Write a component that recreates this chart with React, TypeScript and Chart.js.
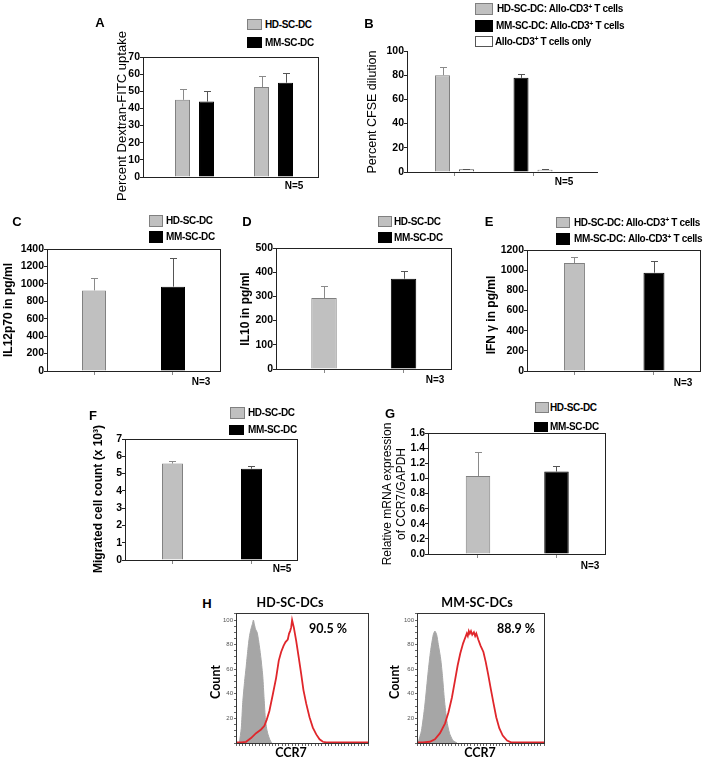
import React, { useEffect, useRef } from 'react';
import { Chart, registerables } from 'chart.js';
Chart.register(...registerables);

// ---------------- DATA ----------------
const GROUPS = ['1', '2'];

// A: Dextran-FITC uptake (%)
const A_HD = [45, 52.5];
const A_HD_ERR = [6.1, 6.7];
const A_MM = [44, 55];
const A_MM_ERR = [5.9, 5.6];
const A_YTICKS = [0, 10, 20, 30, 40, 50, 60, 70];

// B: CFSE dilution (%)
const B_HD = [80, null];
const B_HD_ERR = [6.4, null];
const B_MM = [null, 77.8];
const B_MM_ERR = [null, 3.6];
const B_T = [2.2, 1.9];
const B_T_ERR = [0.6, 0.6];
const B_YTICKS = [0, 20, 40, 60, 80, 100];

// C: IL12p70 pg/ml
const C_HD = [925, null];
const C_HD_ERR = [140, null];
const C_MM = [null, 968];
const C_MM_ERR = [null, 325];
const C_YTICKS = [0, 200, 400, 600, 800, 1000, 1200, 1400];

// D: IL10 pg/ml
const D_HD = [293, null];
const D_HD_ERR = [52, null];
const D_MM = [null, 373];
const D_MM_ERR = [null, 32];
const D_YTICKS = [0, 100, 200, 300, 400, 500];

// E: IFN gamma pg/ml
const E_HD = [1070, null];
const E_HD_ERR = [65, null];
const E_MM = [null, 975];
const E_MM_ERR = [null, 112];
const E_YTICKS = [0, 200, 400, 600, 800, 1000, 1200];

// F: migrated cell count (x10^3)
const F_HD = [5.58, null];
const F_HD_ERR = [0.17, null];
const F_MM = [null, 5.28];
const F_MM_ERR = [null, 0.14];
const F_YTICKS = [0, 1, 2, 3, 4, 5, 6, 7];

// G: relative mRNA CCR7/GAPDH
const G_HD = [1.03, null];
const G_HD_ERR = [0.32, null];
const G_MM = [null, 1.09];
const G_MM_ERR = [null, 0.07];
const G_YTICKS = [0, 0.2, 0.4, 0.6, 0.8, 1.0, 1.2, 1.4, 1.6];

// H: histograms (channel 0-1000, count %)
const HD_ISO_X = [25, 40, 51, 65, 76, 90, 101, 114, 125, 132, 140, 150, 160, 170, 177, 190, 203, 213, 223, 232, 240, 255, 270];
const HD_ISO_Y = [0, 12, 33, 50, 61, 76, 86, 93, 97, 100, 96, 92, 90, 84, 79, 68, 54, 36, 19, 12, 8, 3, 0];
const HD_CCR7_X = [0, 40, 76, 114, 152, 190, 215, 233, 253, 278, 304, 324, 342, 360, 375, 392, 402, 410, 418, 425, 438, 456, 476, 494, 511, 532, 557, 582, 608, 633, 658, 684, 800, 1000];
const HD_CCR7_Y = [0.5, 0.5, 1, 4, 8, 11, 14, 19, 26, 39, 53, 67, 74, 79, 82, 84, 89, 91, 94, 100, 94, 83, 69, 56, 43, 32, 21, 12.5, 7, 3, 1, 0.5, 0.5, 0.5];
const MM_ISO_X = [8, 35, 61, 88, 107, 128, 141, 155, 168, 187, 200, 216, 235, 256, 283, 315];
const MM_ISO_Y = [0, 10, 30, 58, 75, 88, 91, 88, 80, 68, 55, 35, 18, 8, 2, 0];
const MM_CCR7_X = [0, 48, 101, 141, 181, 221, 248, 275, 301, 320, 341, 363, 381, 392, 400, 408, 416, 425, 435, 448, 458, 467, 483, 501, 523, 541, 560, 581, 603, 624, 648, 675, 709, 741, 1000];
const MM_CCR7_Y = [0.5, 0.5, 1, 3, 8, 16, 25, 37, 52, 63, 73, 81, 86, 89, 87, 91, 89, 91, 88, 90, 87, 89, 84, 79, 74, 66, 56, 44, 32, 21, 12, 6, 2, 0.5, 0.5];
const HIST_Y_LABELS = [20, 40, 60, 80, 100];

// ---------------- STYLE ----------------
const FONT = '"Liberation Sans", Arial, sans-serif';
const HFONT = 'Lato, "Open Sans", sans-serif';
const HD_FILL = '#c0c0c0';
const HD_EDGE = '#808080';
const MM_FILL = '#000000';
const T_FILL = '#ffffff';
const T_EDGE = '#555555';
const RED = '#e0262b';
const ISO_GRAY = '#a6a6a6';

const errorBarPlugin = {
  id: 'errorBars',
  afterDatasetsDraw(chart: any) {
    const ctx = chart.ctx;
    chart.data.datasets.forEach((ds: any, di: number) => {
      if (!ds.errors) return;
      const meta = chart.getDatasetMeta(di);
      const yScale = chart.scales[meta.yAxisID];
      meta.data.forEach((el: any, i: number) => {
        const parsed = meta.controller.getParsed(i);
        const e = ds.errors[parsed.x];
        if (parsed.y == null || e == null) return;
        const x = Math.round(el.x) + 0.5;
        const yTop = Math.round(yScale.getPixelForValue(parsed.y + e)) + 0.5;
        const yBase = el.y;
        ctx.save();
        ctx.strokeStyle = ds.errorColor;
        ctx.lineWidth = 1;
        ctx.beginPath();
        ctx.moveTo(x, yBase);
        ctx.lineTo(x, yTop);
        ctx.moveTo(x - 3.5, yTop);
        ctx.lineTo(x + 3.5, yTop);
        ctx.stroke();
        ctx.restore();
      });
    });
  },
};

const framePlugin = {
  id: 'frame',
  afterDraw(chart: any, _args: any, opts: any) {
    if (!opts || !opts.display) return;
    const { left, top, right, bottom } = chart.chartArea;
    const ctx = chart.ctx;
    ctx.save();
    ctx.strokeStyle = opts.color || '#000';
    ctx.lineWidth = 1;
    ctx.strokeRect(Math.round(left) + 0.5, Math.round(top) + 0.5, Math.round(right - left), Math.round(bottom - top));
    ctx.restore();
  },
};

type Series = {
  label: string;
  values: (number | null)[];
  errors: (number | null)[];
  fill: string;
  edge: string;
  errColor: string;
};

type BarSpec = {
  area: { l: number; t: number; r: number; b: number };
  yTicks: number[];
  decimals: number;
  xRange: [number, number];
  catPct: number;
  barPct: number;
  series: Series[];
  frame: boolean;
  xTicks: boolean;
};

const PAD_T = 10;
const PAD_R = 8;
const X_H = 10;
const LEFT_W = 44;

function BarPanel({ spec }: { spec: BarSpec }) {
  const ref = useRef<HTMLCanvasElement>(null);
  const { area } = spec;
  const canvasLeft = area.l - LEFT_W;
  const width = area.r - canvasLeft + PAD_R;
  const height = PAD_T + (area.b - area.t) + X_H;
  useEffect(() => {
    const chart = new Chart(ref.current as HTMLCanvasElement, {
      type: 'bar',
      data: {
        datasets: spec.series.map((s) => ({
          label: s.label,
          data: s.values
            .map((v, i) => (v == null ? null : { x: i, y: v }))
            .filter((p) => p !== null) as any,
          backgroundColor: s.fill,
          borderColor: s.edge,
          borderWidth: 1,
          categoryPercentage: spec.catPct,
          barPercentage: spec.barPct,
          skipNull: true,
          errors: s.errors,
          errorColor: s.errColor,
        })) as any,
      },
      options: {
        responsive: false,
        animation: false,
        devicePixelRatio: 1,
        layout: { padding: { top: PAD_T, right: PAD_R, left: 0, bottom: 0 } },
        plugins: {
          legend: { display: false },
          tooltip: { enabled: false },
          frame: { display: spec.frame, color: '#222' },
        } as any,
        scales: {
          x: {
            type: 'linear',
            min: spec.xRange[0],
            max: spec.xRange[1],
            offset: false,
            grid: {
              display: spec.xTicks,
              drawOnChartArea: false,
              tickLength: 4,
              color: '#888',
              offset: false,
            },
            border: { display: true, color: '#222', width: 1 },
            ticks: { display: false, includeBounds: false },
            afterBuildTicks: (s: any) => {
              s.ticks = GROUPS.map((_, i) => ({ value: i }));
            },
            afterFit: (s: any) => {
              s.height = X_H;
            },
          },
          y: {
            type: 'linear',
            min: spec.yTicks[0],
            max: spec.yTicks[spec.yTicks.length - 1],
            grid: { drawOnChartArea: false, tickLength: 3, color: '#222' },
            border: { display: true, color: '#222', width: 1 },
            ticks: {
              padding: 0,
              autoSkip: false,
              color: '#000',
              font: { family: FONT, size: 10.5, weight: 'bold' },
              callback: (v: any) => Number(v).toFixed(spec.decimals),
            },
            afterBuildTicks: (s: any) => {
              s.ticks = spec.yTicks.map((v) => ({ value: v }));
            },
            afterFit: (s: any) => {
              s.width = LEFT_W;
            },
          },
        } as any,
      },
      plugins: [errorBarPlugin, framePlugin],
    } as any);
    return () => chart.destroy();
  }, []);
  return (
    <canvas
      ref={ref}
      width={width}
      height={height}
      style={{ position: 'absolute', left: canvasLeft, top: area.t - PAD_T, width, height }}
    />
  );
}

type HistSpec = {
  area: { l: number; t: number; r: number; b: number };
  isoX: number[];
  isoY: number[];
  posX: number[];
  posY: number[];
};

function HistPanel({ spec }: { spec: HistSpec }) {
  const ref = useRef<HTMLCanvasElement>(null);
  const { area } = spec;
  const pt = 8, pr = 4, xh = 6, leftW = 18;
  const canvasLeft = area.l - leftW;
  const width = area.r - canvasLeft + pr;
  const height = pt + (area.b - area.t) + xh;
  useEffect(() => {
    const xMarks: number[] = [];
    for (let v = 0; v <= 1000; v += 25) xMarks.push(v);
    const yMarks: number[] = [];
    for (let v = 0; v <= 105; v += 5) yMarks.push(v);
    const chart = new Chart(ref.current as HTMLCanvasElement, {
      type: 'line',
      data: {
        datasets: [
          {
            label: 'CCR7',
            data: spec.posX.map((x, i) => ({ x, y: spec.posY[i] })),
            borderColor: RED,
            borderWidth: 1.8,
            pointRadius: 0,
            fill: false,
            tension: 0,
          },
          {
            label: 'Isotype',
            data: spec.isoX.map((x, i) => ({ x, y: spec.isoY[i] })),
            borderColor: ISO_GRAY,
            backgroundColor: ISO_GRAY,
            borderWidth: 1,
            pointRadius: 0,
            fill: 'origin',
            tension: 0.2,
          },
        ],
      },
      options: {
        responsive: false,
        animation: false,
        devicePixelRatio: 1,
        layout: { padding: { top: pt, right: pr, left: 0, bottom: 0 } },
        plugins: {
          legend: { display: false },
          tooltip: { enabled: false },
          frame: { display: true, color: '#333' },
        } as any,
        scales: {
          x: {
            type: 'linear',
            min: 0,
            max: 1000,
            grid: { drawOnChartArea: false, tickLength: 3, color: '#666' },
            border: { display: true, color: '#333' },
            ticks: { display: false },
            afterBuildTicks: (s: any) => {
              s.ticks = xMarks.map((v) => ({ value: v }));
            },
            afterFit: (s: any) => {
              s.height = xh;
            },
          },
          y: {
            type: 'linear',
            min: 0,
            max: 105.7,
            grid: { drawOnChartArea: false, tickLength: 2, color: '#666' },
            border: { display: true, color: '#333' },
            ticks: {
              padding: 1,
              color: '#555',
              font: { family: FONT, size: 6 },
              autoSkip: false,
              callback: (v: any) => (HIST_Y_LABELS.includes(Number(v)) ? String(v) : ''),
            },
            afterBuildTicks: (s: any) => {
              s.ticks = yMarks.map((v) => ({ value: v }));
            },
            afterFit: (s: any) => {
              s.width = leftW;
            },
          },
        } as any,
      },
      plugins: [framePlugin],
    } as any);
    return () => chart.destroy();
  }, []);
  return (
    <canvas
      ref={ref}
      width={width}
      height={height}
      style={{ position: 'absolute', left: canvasLeft, top: area.t - pt, width, height }}
    />
  );
}

// ---------------- PANEL SPECS ----------------
const hd = (values: (number | null)[], errors: (number | null)[]): Series => ({
  label: 'HD-SC-DC', values, errors, fill: HD_FILL, edge: HD_EDGE, errColor: '#8a8a8a',
});
const mm = (values: (number | null)[], errors: (number | null)[]): Series => ({
  label: 'MM-SC-DC', values, errors, fill: MM_FILL, edge: '#000', errColor: '#555',
});

const PANELS: BarSpec[] = [
  {
    area: { l: 143, t: 57, r: 318, b: 177 }, yTicks: A_YTICKS, decimals: 0,
    xRange: [-0.652, 1.563], catPct: 0.6076, barPct: 0.625,
    series: [hd(A_HD, A_HD_ERR), mm(A_MM, A_MM_ERR)], frame: true, xTicks: false,
  },
  {
    area: { l: 407, t: 51, r: 597, b: 172 }, yTicks: B_YTICKS, decimals: 0,
    xRange: [-0.605, 1.815], catPct: 0.611, barPct: 0.625,
    series: [
      hd(B_HD, B_HD_ERR),
      mm(B_MM, B_MM_ERR),
      { label: 'Allo-CD3+ T cells only', values: B_T, errors: B_T_ERR, fill: T_FILL, edge: T_EDGE, errColor: '#555' },
    ],
    frame: false, xTicks: true,
  },
  {
    area: { l: 47, t: 249, r: 220, b: 371 }, yTicks: C_YTICKS, decimals: 0,
    xRange: [-0.595, 1.595], catPct: 0.304, barPct: 1,
    series: [hd(C_HD, C_HD_ERR), mm(C_MM, C_MM_ERR)], frame: true, xTicks: true,
  },
  {
    area: { l: 276, t: 248, r: 451, b: 369 }, yTicks: D_YTICKS, decimals: 0,
    xRange: [-0.604, 1.597], catPct: 0.32, barPct: 1,
    series: [hd(D_HD, D_HD_ERR), mm(D_MM, D_MM_ERR)], frame: true, xTicks: true,
  },
  {
    area: { l: 527, t: 250, r: 700, b: 371 }, yTicks: E_YTICKS, decimals: 0,
    xRange: [-0.597, 1.579], catPct: 0.264, barPct: 1,
    series: [hd(E_HD, E_HD_ERR), mm(E_MM, E_MM_ERR)], frame: true, xTicks: true,
  },
  {
    area: { l: 125, t: 439, r: 297, b: 560 }, yTicks: F_YTICKS, decimals: 0,
    xRange: [-0.601, 1.576], catPct: 0.266, barPct: 1,
    series: [hd(F_HD, F_HD_ERR), mm(F_MM, F_MM_ERR)], frame: true, xTicks: true,
  },
  {
    area: { l: 428, t: 433, r: 605, b: 554 }, yTicks: G_YTICKS, decimals: 1,
    xRange: [-0.637, 1.618], catPct: 0.312, barPct: 1,
    series: [hd(G_HD, G_HD_ERR), mm(G_MM, G_MM_ERR)], frame: true, xTicks: true,
  },
];

const HISTS: HistSpec[] = [
  { area: { l: 236, t: 613, r: 368, b: 743 }, isoX: HD_ISO_X, isoY: HD_ISO_Y, posX: HD_CCR7_X, posY: HD_CCR7_Y },
  { area: { l: 417, t: 613, r: 544, b: 743 }, isoX: MM_ISO_X, isoY: MM_ISO_Y, posX: MM_CCR7_X, posY: MM_CCR7_Y },
];

// ---------------- TEXT / LEGENDS ----------------
const LETTERS: [string, number, number][] = [
  ['A', 100, 22], ['B', 369, 23], ['C', 17, 221], ['D', 247, 221], ['E', 489, 221],
  ['F', 93, 415], ['G', 390, 413], ['H', 207, 603],
];
const N_LABELS: [string, number, number][] = [
  ['N=5', 294, 186], ['N=5', 564, 182], ['N=3', 201, 382], ['N=3', 435, 380],
  ['N=3', 683, 383], ['N=5', 282, 569], ['N=3', 590, 566],
];

// y-axis titles: [lines, centerX, centerY, size, bold, family]
const Y_TITLES: [string[], number, number, number, boolean, string][] = [
  [['Percent Dextran-FITC uptake'], 121, 116, 13, false, FONT],
  [['Percent CFSE dilution'], 372, 112, 12.5, false, FONT],
  [['IL12p70 in pg/ml'], 8, 310, 12, true, FONT],
  [['IL10 in pg/ml'], 245, 309, 12, true, FONT],
  [['IFN γ in pg/ml'], 491, 315, 12, true, FONT],
  [['Migrated cell count (x 10³)'], 98, 499, 12, true, FONT],
  [['Relative mRNA expression', 'of CCR7/GAPDH'], 394, 494, 12, false, FONT],
  [['Count'], 216, 682, 12.5, true, HFONT],
  [['Count'], 395, 682, 12.5, true, HFONT],
];

type Leg = { x: number; y: number; w: number; h: number; fill: string; edge: string; tx: number; text: React.ReactNode };
const CD3 = (pre: string, post: string) => (
  <>
    {pre}CD3<span style={{ fontSize: '0.7em', position: 'relative', top: '-0.45em' }}>+</span>{post}
  </>
);
const LEGENDS: Leg[] = [
  { x: 247, y: 19, w: 15, h: 11, fill: HD_FILL, edge: HD_EDGE, tx: 265, text: 'HD-SC-DC' },
  { x: 247, y: 37, w: 15, h: 11, fill: MM_FILL, edge: '#000', tx: 265, text: 'MM-SC-DC' },
  { x: 475, y: 3, w: 18, h: 12, fill: HD_FILL, edge: HD_EDGE, tx: 497, text: CD3('HD-SC-DC: Allo-', ' T cells') },
  { x: 475, y: 20, w: 18, h: 12, fill: MM_FILL, edge: '#000', tx: 496, text: CD3('MM-SC-DC: Allo-', ' T cells') },
  { x: 475, y: 36, w: 18, h: 11, fill: T_FILL, edge: T_EDGE, tx: 495, text: CD3('Allo-', ' T cells only') },
  { x: 149, y: 215, w: 14, h: 12, fill: HD_FILL, edge: HD_EDGE, tx: 166, text: 'HD-SC-DC' },
  { x: 149, y: 231, w: 14, h: 12, fill: MM_FILL, edge: '#000', tx: 166, text: 'MM-SC-DC' },
  { x: 378, y: 216, w: 14, h: 11, fill: HD_FILL, edge: HD_EDGE, tx: 394, text: 'HD-SC-DC' },
  { x: 378, y: 232, w: 14, h: 11, fill: MM_FILL, edge: '#000', tx: 394, text: 'MM-SC-DC' },
  { x: 556, y: 217, w: 14, h: 11, fill: HD_FILL, edge: HD_EDGE, tx: 574, text: CD3('HD-SC-DC: Allo-', ' T cells') },
  { x: 556, y: 233, w: 14, h: 12, fill: MM_FILL, edge: '#000', tx: 574, text: CD3('MM-SC-DC: Allo-', ' T cells') },
  { x: 230, y: 407, w: 15, h: 12, fill: HD_FILL, edge: HD_EDGE, tx: 248, text: 'HD-SC-DC' },
  { x: 229, y: 425, w: 15, h: 10, fill: MM_FILL, edge: '#000', tx: 248, text: 'MM-SC-DC' },
  { x: 535, y: 402, w: 14, h: 11, fill: HD_FILL, edge: HD_EDGE, tx: 550, text: 'HD-SC-DC' },
  { x: 534, y: 422, w: 14, h: 10, fill: MM_FILL, edge: '#000', tx: 550, text: 'MM-SC-DC' },
];

const HIST_TEXT: [string, number, number][] = [
  ['HD-SC-DCs', 290, 603], ['MM-SC-DCs', 477, 603],
  ['90.5 %', 328, 629], ['88.9 %', 516, 629],
  ['CCR7', 291, 753], ['CCR7', 480, 753],
];

const centered = (x: number, y: number): React.CSSProperties => ({
  position: 'absolute', left: x, top: y, transform: 'translate(-50%, -50%)', whiteSpace: 'nowrap', lineHeight: 1,
});

export default function App() {
  return (
    <div style={{ position: 'absolute', left: 0, top: 0, width: 710, height: 760, overflow: 'hidden', background: '#fff' }}>
      {PANELS.map((p, i) => (
        <BarPanel key={'b' + i} spec={p} />
      ))}
      {HISTS.map((h, i) => (
        <HistPanel key={'h' + i} spec={h} />
      ))}
      {Y_TITLES.map(([lines, x, y, size, bold, fam], i) => (
        <div
          key={'y' + i}
          style={{
            position: 'absolute', left: x, top: y, transform: 'translate(-50%, -50%) rotate(-90deg)',
            whiteSpace: 'nowrap', textAlign: 'center', lineHeight: `${Math.round(size * 1.13)}px`,
            fontFamily: fam, fontSize: size, fontWeight: bold ? 'bold' : 'normal', color: '#000',
          }}
        >
          {lines.map((l, j) => (
            <div key={j}>{l}</div>
          ))}
        </div>
      ))}
      {LETTERS.map(([t, x, y]) => (
        <div key={'l' + t} style={{ ...centered(x, y), fontFamily: FONT, fontWeight: 'bold', fontSize: 13 }}>{t}</div>
      ))}
      {N_LABELS.map(([t, x, y], i) => (
        <div key={'n' + i} style={{ ...centered(x, y), fontFamily: FONT, fontWeight: 'bold', fontSize: 10 }}>{t}</div>
      ))}
      {LEGENDS.map((l, i) => (
        <React.Fragment key={'g' + i}>
          <div
            style={{
              position: 'absolute', left: l.x, top: l.y, width: l.w, height: l.h, boxSizing: 'border-box',
              background: l.fill, border: `1px solid ${l.edge}`,
            }}
          />
          <div
            style={{
              position: 'absolute', left: l.tx, top: l.y + l.h / 2, transform: 'translateY(-50%)',
              whiteSpace: 'nowrap', lineHeight: 1, fontFamily: FONT, fontWeight: 'bold', fontSize: 10,
              letterSpacing: '-0.35px',
            }}
          >
            {l.text}
          </div>
        </React.Fragment>
      ))}
      {HIST_TEXT.map(([t, x, y], i) => (
        <div key={'t' + i} style={{ ...centered(x, y), fontFamily: HFONT, fontWeight: 'bold', fontSize: 12.5 }}>{t}</div>
      ))}
    </div>
  );
}
